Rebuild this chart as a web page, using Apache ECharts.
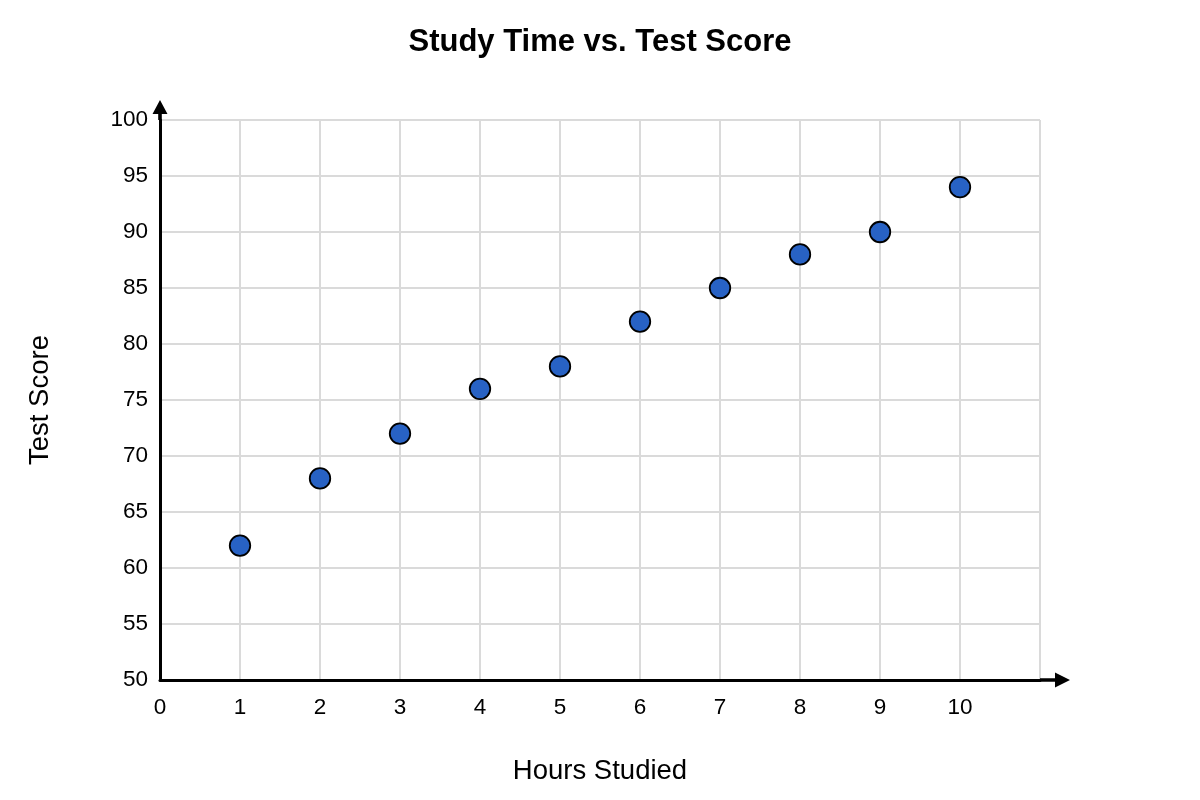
<!DOCTYPE html>
<html>
<head>
<meta charset="utf-8">
<script src="https://cdn.jsdelivr.net/npm/echarts@6/dist/echarts.min.js"></script>
<style>html,body{margin:0;padding:0;background:#fff}#c{width:1200px;height:800px}</style>
</head>
<body>
<div id="c"></div>
<script>
const hours = [1, 2, 3, 4, 5, 6, 7, 8, 9, 10];
const scores = [62, 68, 72, 76, 78, 82, 85, 88, 90, 94];
const xTickMax = 10;

const font = "'Liberation Sans', Arial, sans-serif";
const chart = echarts.init(document.getElementById('c'));
chart.setOption({
  backgroundColor: '#fff',
  animation: false,
  title: {
    text: 'Study Time vs. Test Score',
    left: 'center',
    top: 22,
    textStyle: { fontFamily: font, fontSize: 31, fontWeight: 'bold', color: '#000' }
  },
  grid: { left: 160, right: 160, top: 120, bottom: 120, containLabel: false },
  xAxis: {
    type: 'value', min: 0, max: 11, interval: 1,
    name: 'Hours Studied', nameLocation: 'middle', nameGap: 77,
    nameTextStyle: { fontFamily: font, fontSize: 27.5, color: '#000' },
    axisLine: {
      show: true, onZero: false,
      lineStyle: { color: '#000', width: 3 },
      symbol: ['none', 'path://M7.5,0 L15,15 L9.3,15 L9.3,30 L5.7,30 L5.7,15 L0,15 Z'],
      symbolSize: [15, 30], symbolOffset: [0, 15]
    },
    axisTick: { show: false },
    axisLabel: {
      fontFamily: font, fontSize: 22.5, color: '#000', margin: 16,
      formatter: v => (v <= xTickMax ? String(v) : '')
    },
    splitLine: { show: true, lineStyle: { color: '#dadada', width: 2 } }
  },
  yAxis: {
    type: 'value', min: 50, max: 100, interval: 5,
    name: 'Test Score', nameLocation: 'middle', nameGap: 106, nameRotate: 90,
    nameTextStyle: { fontFamily: font, fontSize: 27.5, color: '#000' },
    axisLine: {
      show: true, onZero: false,
      lineStyle: { color: '#000', width: 3 },
      symbol: ['none', 'path://M7.5,0 L15,14 L9.3,14 L9.3,20 L5.7,20 L5.7,14 L0,14 Z'],
      symbolSize: [15, 20], symbolOffset: [0, 10]
    },
    axisTick: { show: false },
    axisLabel: { fontFamily: font, fontSize: 22.5, color: '#000', margin: 12 },
    splitLine: { show: true, lineStyle: { color: '#dadada', width: 2 } }
  },
  series: [{
    type: 'scatter',
    data: hours.map((h, i) => [h, scores[i]]),
    symbol: 'circle',
    symbolSize: 20.5,
    itemStyle: { color: '#2862c4', borderColor: '#000', borderWidth: 1.8, opacity: 1 },
    z: 5
  }]
});
</script>
</body>
</html>
